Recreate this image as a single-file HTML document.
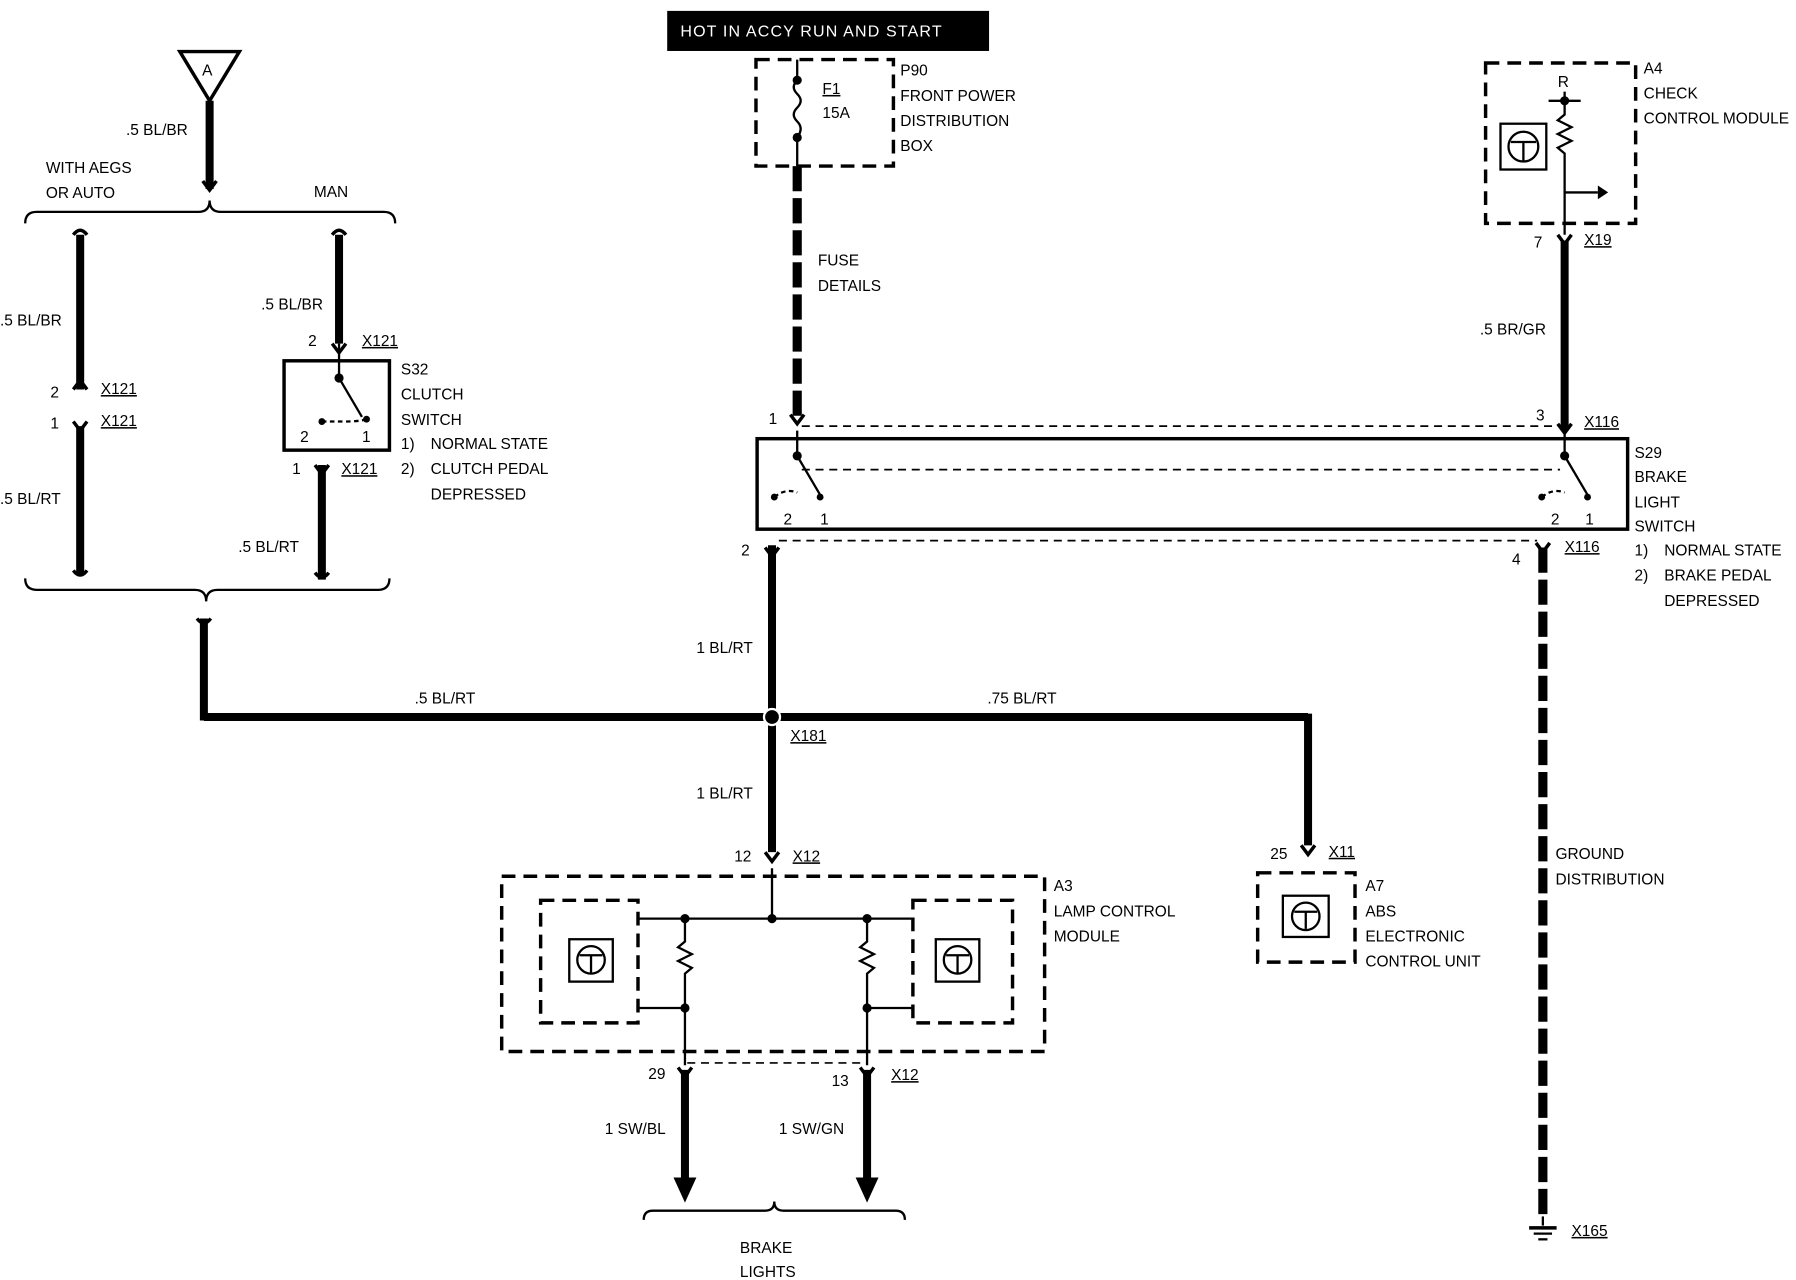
<!DOCTYPE html>
<html><head><meta charset="utf-8"><style>
html,body{margin:0;padding:0;background:#fff;}
svg{display:block;}
text{font-family:"Liberation Sans",sans-serif;font-size:13.5px;fill:#000;}
</style></head><body>
<svg width="1796" height="1280" viewBox="0 0 1568 1117.5" xmlns="http://www.w3.org/2000/svg">
<g fill="none" stroke="#000">
<rect x="583" y="10" width="280" height="34" fill="#000"/>
<rect x="660" y="52" width="120" height="93" stroke-width="3" stroke-dasharray="12,7"/>
<path d="M696 52 V70 M696 70 q-6 6 0 12 q6 6 0 12 q-6 6 0 12 q6 6 0 14" stroke-width="2"/>
<line x1="696" y1="120" x2="696" y2="145" stroke-width="2"/>
<line x1="696" y1="145" x2="696" y2="366" stroke-width="8" stroke-dasharray="22,6"/>
<rect x="661" y="383" width="760" height="79" stroke-width="3"/>
<line x1="700" y1="372" x2="1362" y2="372" stroke-width="1.5" stroke-dasharray="7,5"/>
<line x1="700" y1="410" x2="1362" y2="410" stroke-width="1.5" stroke-dasharray="7,5"/>
<line x1="680" y1="472" x2="1342" y2="472" stroke-width="1.5" stroke-dasharray="7,5"/>
<path d="M696 376 V398 L716 432" stroke-width="2"/>
<path d="M676 434 q10 -8 20 -4" stroke-width="2" stroke-dasharray="4,3"/>
<path d="M1366 376 V398 L1386 432" stroke-width="2"/>
<path d="M1346 434 q10 -8 20 -4" stroke-width="2" stroke-dasharray="4,3"/>
<line x1="674" y1="476" x2="674" y2="744" stroke-width="7"/>
<line x1="178" y1="626" x2="1142" y2="626" stroke-width="7"/>
<line x1="1142" y1="623" x2="1142" y2="738" stroke-width="7"/>
<line x1="178" y1="540" x2="178" y2="629" stroke-width="7"/>
<line x1="1347" y1="478" x2="1347" y2="1062" stroke-width="8" stroke-dasharray="22,6"/>
<line x1="1347" y1="1062" x2="1347" y2="1070" stroke-width="2"/>
<line x1="1335" y1="1072" x2="1359" y2="1072" stroke-width="3"/>
<line x1="1339" y1="1077" x2="1355" y2="1077" stroke-width="2"/>
<line x1="1343" y1="1082" x2="1351" y2="1082" stroke-width="2"/>
<rect x="1297" y="55" width="131" height="140" stroke-width="3" stroke-dasharray="12,7"/>
<rect x="1310" y="108" width="40" height="40" stroke-width="2"/>
<circle cx="1330" cy="128" r="13" stroke-width="2"/>
<path d="M1319 124 h22 M1330 124 v17" stroke-width="2"/>
<path d="M1352 88 h28 M1366 80 V100 l-6 5 l12 6 l-12 6 l12 6 l-12 6 l6 5 V205 M1366 168 H1395" stroke-width="2"/>
<line x1="1366" y1="210" x2="1366" y2="376" stroke-width="7"/>
<path d="M157 45 H209 L183 88 Z" stroke-width="3"/>
<line x1="183" y1="88" x2="183" y2="165" stroke-width="7"/>
<path d="M22 195 q0 -10 10 -10 H173 q10 0 10 -10 q0 10 10 10 H335 q10 0 10 10" stroke-width="2"/>
<line x1="70" y1="205" x2="70" y2="340" stroke-width="7"/>
<line x1="70" y1="372" x2="70" y2="502" stroke-width="7"/>
<line x1="296" y1="205" x2="296" y2="300" stroke-width="7"/>
<rect x="248" y="315" width="92" height="78" stroke-width="3"/>
<path d="M296 300 V330 L316 364" stroke-width="2"/>
<path d="M281 368 H300 q14 0 20 -2" stroke-width="2" stroke-dasharray="4,3"/>
<line x1="281" y1="406" x2="281" y2="506" stroke-width="7"/>
<path d="M22 505 q0 10 10 10 H170 q10 0 10 10 q0 -10 10 -10 H330 q10 0 10 -10" stroke-width="2"/>
<rect x="438" y="765" width="474" height="153" stroke-width="3" stroke-dasharray="12,7"/>
<rect x="472" y="786" width="85" height="107" stroke-width="3" stroke-dasharray="12,7"/>
<rect x="797" y="786" width="87" height="107" stroke-width="3" stroke-dasharray="12,7"/>
<rect x="497" y="820" width="38" height="37" stroke-width="2"/>
<circle cx="516" cy="838" r="12" stroke-width="2"/>
<path d="M506 834 h20 M516 834 v15" stroke-width="2"/>
<rect x="817" y="820" width="38" height="37" stroke-width="2"/>
<circle cx="836" cy="838" r="12" stroke-width="2"/>
<path d="M826 834 h20 M836 834 v15" stroke-width="2"/>
<path d="M674 758 V802 M557 802 H797 M598 802 V822 l-6 5 l12 6 l-12 6 l12 6 l-6 5 V930 M757 802 V822 l-6 5 l12 6 l-12 6 l12 6 l-6 5 V930 M557 880 H598 M757 880 H797" stroke-width="2"/>
<line x1="600" y1="928" x2="757" y2="928" stroke-width="1.5" stroke-dasharray="7,5"/>
<line x1="598" y1="934" x2="598" y2="1030" stroke-width="7"/>
<line x1="757" y1="934" x2="757" y2="1030" stroke-width="7"/>
<path d="M562 1065 q0 -8 8 -8 H668 q8 0 8 -8 q0 8 8 8 H782 q8 0 8 8" stroke-width="2"/>
<rect x="1098" y="762" width="85" height="78" stroke-width="3" stroke-dasharray="12,7"/>
<rect x="1120" y="782" width="40" height="36" stroke-width="2"/>
<circle cx="1140" cy="800" r="12" stroke-width="2"/>
<path d="M1130 796 h20 M1140 796 v15" stroke-width="2"/>
<g stroke-width="3">
<path d="M690 362 l6 8 l6 -8"/>
<path d="M668 478 l6 8 l6 -8"/>
<path d="M1360 205 l6 8 l6 -8"/>
<path d="M1360 370 l6 8 l6 -8"/>
<path d="M1341 474 l6 8 l6 -8"/>
<path d="M177 158 l6 8 l6 -8"/>
<path d="M64 205 q6 -8 12 0"/>
<path d="M290 205 q6 -8 12 0"/>
<path d="M64 340 l6 -8 l6 8"/>
<path d="M64 368 l6 8 l6 -8"/>
<path d="M290 300 l6 8 l6 -8"/>
<path d="M275 406 l6 8 l6 -8"/>
<path d="M64 498 q6 8 12 0"/>
<path d="M275 500 q6 8 12 0"/>
<path d="M172 540 q6 8 12 0"/>
<path d="M668 744 l6 8 l6 -8"/>
<path d="M1136 738 l6 8 l6 -8"/>
<path d="M592 932 l6 8 l6 -8"/>
<path d="M751 932 l6 8 l6 -8"/>
</g>
</g>
<g fill="#000">
<circle cx="696" cy="70" r="4"/><circle cx="696" cy="120" r="4"/>
<circle cx="696" cy="398" r="4"/><circle cx="676" cy="434" r="3"/><circle cx="716" cy="434" r="3"/>
<circle cx="1366" cy="398" r="4"/><circle cx="1346" cy="434" r="3"/><circle cx="1386" cy="434" r="3"/>
<circle cx="296" cy="330" r="4"/><circle cx="281" cy="368" r="3"/><circle cx="320" cy="366" r="3"/>
<circle cx="1366" cy="88" r="4"/>
<circle cx="674" cy="626" r="7" stroke="#fff" stroke-width="2"/>
<circle cx="674" cy="802" r="4"/><circle cx="598" cy="802" r="4"/><circle cx="757" cy="802" r="4"/>
<circle cx="598" cy="880" r="4"/><circle cx="757" cy="880" r="4"/>
<path d="M1395 162 L1404 168 L1395 174 Z"/>
<path d="M588 1028 H608 L598 1050 Z"/>
<path d="M747 1028 H767 L757 1050 Z"/>
</g>
<text x="594" y="32" style="fill:#fff;font-size:14px;letter-spacing:1px">HOT IN ACCY RUN AND START</text>
<text x="181" y="66" text-anchor="middle">A</text>
<text x="718" y="82" text-decoration="underline">F1</text><text x="718" y="103">15A</text>
<text x="786" y="66">P90</text><text x="786" y="88">FRONT POWER</text><text x="786" y="110">DISTRIBUTION</text><text x="786" y="132">BOX</text>
<text x="714" y="232">FUSE</text><text x="714" y="254">DETAILS</text>
<text x="671" y="370">1</text><text x="1341" y="367">3</text><text x="1383" y="373" text-decoration="underline">X116</text>
<text x="684" y="458">2</text><text x="716" y="458">1</text><text x="1354" y="458">2</text><text x="1384" y="458">1</text>
<text x="1427" y="400">S29</text><text x="1427" y="421">BRAKE</text><text x="1427" y="443">LIGHT</text><text x="1427" y="464">SWITCH</text>
<text x="1427" y="485">1)</text><text x="1453" y="485">NORMAL STATE</text><text x="1427" y="507">2)</text><text x="1453" y="507">BRAKE PEDAL</text><text x="1453" y="529">DEPRESSED</text>
<text x="647" y="485">2</text><text x="1320" y="493">4</text><text x="1366" y="482" text-decoration="underline">X116</text>
<text x="608" y="570">1 BL/RT</text><text x="608" y="697">1 BL/RT</text>
<text x="362" y="614">.5 BL/RT</text><text x="862" y="614">.75 BL/RT</text>
<text x="690" y="647" text-decoration="underline">X181</text>
<text x="1435" y="64">A4</text><text x="1435" y="86">CHECK</text><text x="1435" y="108">CONTROL MODULE</text>
<text x="1360" y="76">R</text>
<text x="1339" y="216">7</text><text x="1383" y="214" text-decoration="underline">X19</text>
<text x="1292" y="292">.5 BR/GR</text>
<text x="1358" y="750">GROUND</text><text x="1358" y="772">DISTRIBUTION</text>
<text x="1372" y="1079" text-decoration="underline">X165</text>
<text x="110" y="118">.5 BL/BR</text>
<text x="40" y="151">WITH AEGS</text><text x="40" y="173">OR AUTO</text><text x="274" y="172">MAN</text>
<text x="0" y="284">.5 BL/BR</text><text x="44" y="347">2</text><text x="88" y="344" text-decoration="underline">X121</text>
<text x="44" y="374">1</text><text x="88" y="372" text-decoration="underline">X121</text><text x="0" y="440">.5 BL/RT</text>
<text x="228" y="270">.5 BL/BR</text><text x="269" y="302">2</text><text x="316" y="302" text-decoration="underline">X121</text>
<text x="262" y="386">2</text><text x="316" y="386">1</text>
<text x="350" y="327">S32</text><text x="350" y="349">CLUTCH</text><text x="350" y="371">SWITCH</text>
<text x="350" y="392">1)</text><text x="376" y="392">NORMAL STATE</text><text x="350" y="414">2)</text><text x="376" y="414">CLUTCH PEDAL</text><text x="376" y="436">DEPRESSED</text>
<text x="255" y="414">1</text><text x="298" y="414" text-decoration="underline">X121</text><text x="208" y="482">.5 BL/RT</text>
<text x="641" y="752">12</text><text x="692" y="752" text-decoration="underline">X12</text>
<text x="920" y="778">A3</text><text x="920" y="800">LAMP CONTROL</text><text x="920" y="822">MODULE</text>
<text x="566" y="942">29</text><text x="726" y="948">13</text><text x="778" y="943" text-decoration="underline">X12</text>
<text x="528" y="990">1 SW/BL</text><text x="680" y="990">1 SW/GN</text>
<text x="646" y="1094">BRAKE</text><text x="646" y="1115">LIGHTS</text>
<text x="1109" y="750">25</text><text x="1160" y="748" text-decoration="underline">X11</text>
<text x="1192" y="778">A7</text><text x="1192" y="800">ABS</text><text x="1192" y="822">ELECTRONIC</text><text x="1192" y="844">CONTROL UNIT</text>
</svg>
</body></html>
